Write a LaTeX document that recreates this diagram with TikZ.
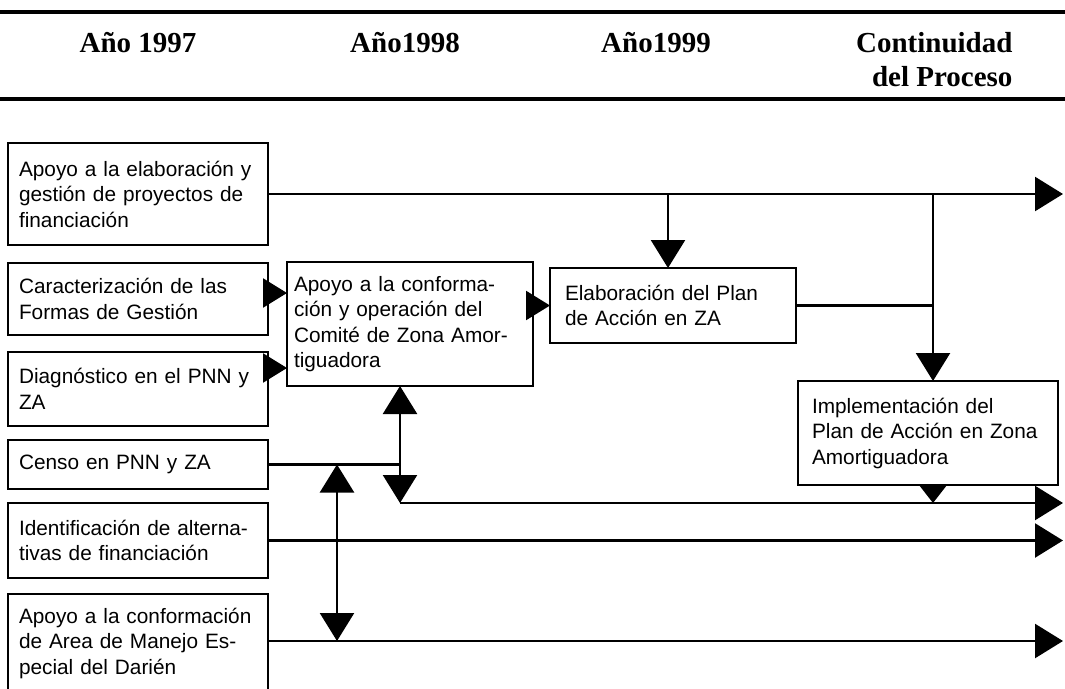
\documentclass[tikz,border=0pt]{standalone}
\usepackage{fontspec}
\setmainfont{Liberation Serif}
\setsansfont{Liberation Sans}
\usetikzlibrary{arrows.meta}

\begin{document}
\begin{tikzpicture}[x=1pt,y=-1pt,
  caja/.style={draw,line width=2.8pt,anchor=north west,outer sep=0pt,
    inner ysep=0pt,inner xsep=11pt,align=left,
    font=\sffamily\fontsize{20.8}{25.5}\selectfont},
  anio/.style={anchor=base,font=\bfseries\fontsize{29}{35}\selectfont},
  linea/.style={line width=2.4pt},
  flecha/.style={linea,-{Triangle[length=28pt,width=34pt]}},
  flechita/.style={linea,-{Triangle[length=24pt,width=29pt]}},
  punta/.style={linea,-{Triangle[length=19pt,width=29pt]}}]
\useasboundingbox (0,0) rectangle (1065,688);
\draw[line width=4pt] (0,12)--(1065,12);
\draw[line width=4pt] (0,99)--(1065,99);
\node[anio] (a97) at (138,52) {Año 1997};
\node[anio] (a98) at (405,52) {Año1998};
\node[anio] (a99) at (656,52) {Año1999};
\node[anio,anchor=base east] (cont1) at (1016,52) {Continuidad};
\node[anio,anchor=base east] (cont2) at (1016,86) {del Proceso};

\node[caja,text width=238pt,minimum height=102pt] (b1) at (8,143)
  {Apoyo a la elaboración y\\gestión de proyectos de\\financiación};
\node[caja,text width=238pt,minimum height=72pt] (b2) at (8,263)
  {Caracterización de las\\Formas de Gestión};
\node[caja,text width=238pt,minimum height=74pt] (b3) at (8,352)
  {Diagnóstico en el PNN y\\ZA};
\node[caja,text width=238pt,minimum height=49pt] (b4) at (8,440)
  {Censo en PNN y ZA};
\node[caja,text width=238pt,minimum height=75pt] (b5) at (8,503)
  {Identificación de alterna-\\tivas de financiación};
\node[caja,text width=238pt,minimum height=98pt] (b6) at (8,594)
  {Apoyo a la conformación\\de Area de Manejo Es-\\pecial del Darién};
\node[caja,inner xsep=7pt,text width=232pt,minimum height=124pt] (mid) at (287,262)
  {Apoyo a la conforma-\\ción y operación del\\Comité de Zona Amor-\\tiguadora};
\node[caja,inner xsep=15pt,text width=216pt,minimum height=75pt] (elab) at (550,268)
  {Elaboración del Plan\\de Acción en ZA};
\node[caja,inner xsep=14pt,text width=232pt,minimum height=104pt] (impl) at (798,381)
  {Implementación del\\Plan de Acción en Zona\\Amortiguadora};

\coordinate (fin) at (1063,0);
\coordinate (k1) at (668,0);
\coordinate (k2) at (933,0);
\coordinate (k3) at (400,0);
\coordinate (k4) at (337,0);
\coordinate (c2) at (0,293);
\coordinate (c3) at (0,368);
\coordinate (c4) at (400,503);
\coordinate (c6) at (0,641);

\draw[flecha] (b1.east)--(b1.east -| fin);
\draw[flecha] (b1.east -| k1)--(elab.north -| k1);
\draw[flecha] (b1.east -| k2)--(impl.north -| k2);
\draw[linea] (elab.east)--(elab.east -| k2);
\draw[flechita] (b2.east |- c2)--(mid.west |- c2);
\draw[flechita] (b3.east |- c3)--(mid.west |- c3);
\draw[flechita] (mid.east |- elab.west)--(elab.west);
\draw[linea] (b4.east)--(b4.east -| k3);
\draw[flecha] (b4.east -| k3)--(mid.south -| k3);
\draw[flecha] (b4.east -| k3)--(c4);
\draw[flecha] (c4)--(c4 -| fin);
\draw[punta] (impl.south -| k2)--(c4 -| k2);
\draw[flecha] (b5.east)--(b5.east -| fin);
\draw[flecha] (b6.east |- c6)--(c6 -| fin);
\draw[linea,{Triangle[length=28pt,width=34pt]}-{Triangle[length=28pt,width=34pt]}]
  (b4.east -| k4)--(c6 -| k4);
\end{tikzpicture}
\end{document}
